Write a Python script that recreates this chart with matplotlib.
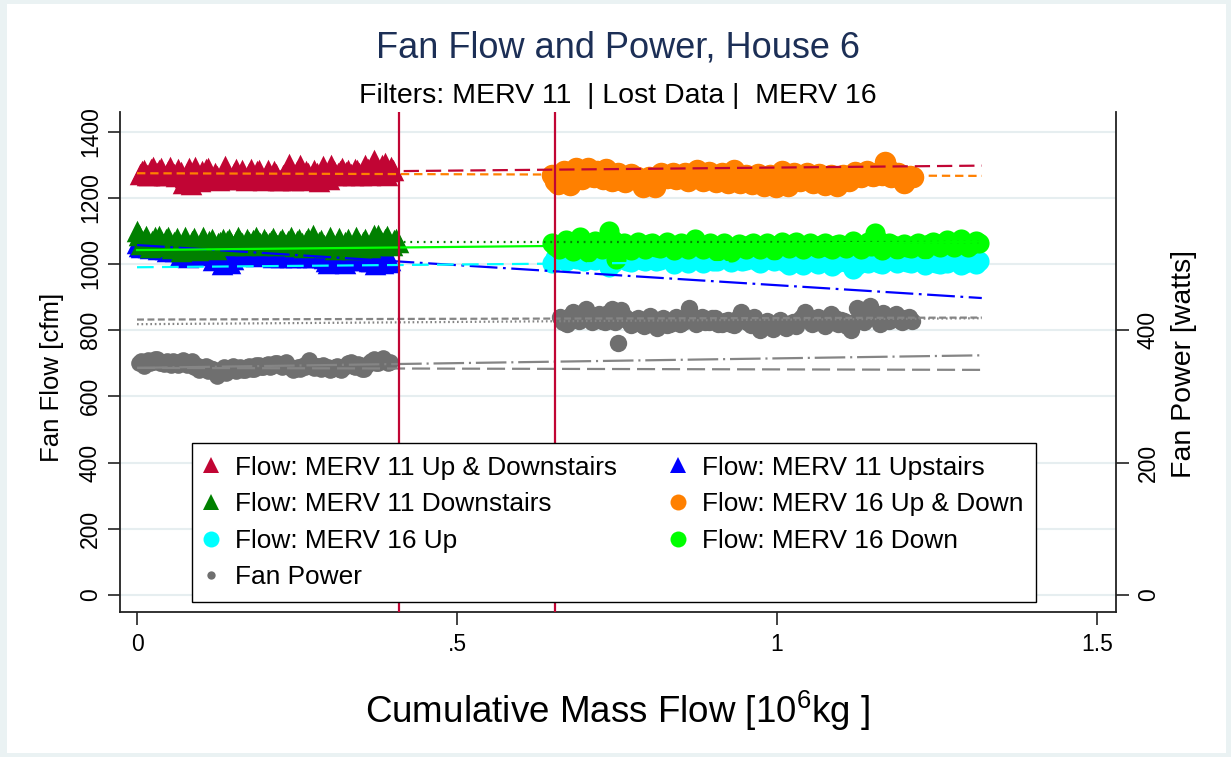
import numpy as np
import matplotlib.pyplot as plt
from matplotlib.lines import Line2D
from matplotlib.patches import Rectangle

plt.rcParams['font.family'] = ['Liberation Sans', 'DejaVu Sans']
plt.rcParams['mathtext.fontset'] = 'custom'
plt.rcParams['mathtext.rm'] = 'Liberation Sans'
plt.rcParams['mathtext.it'] = 'Liberation Sans'
plt.rcParams['lines.scale_dashes'] = False

# Flow [cfm], MERV 11 period
merv11_both = [1272, 1280, 1285, 1268, 1270, 1288, 1294, 1276, 1275, 1284,
               1290, 1270, 1268, 1282, 1292, 1274, 1272, 1266, 1288, 1278,
               1245, 1262, 1275, 1290, 1242, 1256, 1292, 1270, 1250, 1280,
               1262, 1288, 1290, 1258, 1258, 1276, 1266, 1255, 1260, 1272,
               1296, 1278, 1260, 1256, 1274, 1286, 1258, 1270, 1284, 1262,
               1254, 1276, 1286, 1260, 1262, 1280, 1283, 1256, 1255, 1270,
               1284, 1262, 1256, 1280, 1272, 1254, 1254, 1268, 1275, 1284,
               1303, 1270, 1255, 1264, 1280, 1300, 1253, 1262, 1282, 1274,
               1256, 1268, 1283, 1274, 1250, 1262, 1296, 1278, 1262, 1256,
               1298, 1282, 1268, 1276, 1282, 1290, 1270, 1279, 1284, 1272,
               1270, 1286, 1283, 1274, 1268, 1280, 1300, 1288, 1270, 1276,
               1314, 1290, 1272, 1282, 1300, 1306, 1268, 1280, 1292, 1284]
merv11_up = [1062, 1054, 1050, 1058, 1066, 1052, 1048, 1060, 1058, 1050,
             1046, 1054, 1060, 1044, 1040, 1050, 1055, 1042, 1038, 1046,
             1024, 1040, 1048, 1036, 1022, 1030, 1045, 1040, 1030, 1038,
             1040, 1034, 1028, 1036, 1044, 1032, 1012, 1024, 1036, 1030,
             1000, 1020, 1034, 1028, 1004, 1016, 1030, 1036, 1040, 1030,
             1042, 1034, 1028, 1036, 1040, 1030, 1025, 1032, 1036, 1028,
             1026, 1034, 1038, 1028, 1022, 1030, 1035, 1026, 1020, 1028,
             1034, 1026, 1022, 1030, 1030, 1020, 1024, 1030, 1032, 1026,
             1020, 1028, 1032, 1022, 1024, 1030, 1028, 1022, 1018, 1010,
             1003, 1016, 1026, 1012, 1006, 1018, 1024, 1014, 1004, 1016,
             1022, 1014, 1012, 1020, 1025, 1012, 1016, 1022, 1020, 1010,
             1008, 1018, 1000, 1006, 1010, 1014, 1002, 1008, 1006, 1012]
merv11_down = [1100, 1088, 1060, 1072, 1084, 1066, 1052, 1070, 1080, 1064,
               1085, 1068, 1055, 1074, 1080, 1062, 1048, 1066, 1078, 1060,
               1040, 1062, 1082, 1056, 1045, 1070, 1078, 1058, 1042, 1066,
               1080, 1060, 1048, 1068, 1076, 1056, 1044, 1062, 1066, 1074,
               1060, 1070, 1074, 1064, 1058, 1068, 1080, 1070, 1062, 1056,
               1076, 1066, 1060, 1072, 1082, 1068, 1064, 1058, 1074, 1066,
               1062, 1070, 1078, 1066, 1058, 1068, 1075, 1062, 1056, 1070,
               1080, 1066, 1055, 1068, 1074, 1062, 1052, 1068, 1078, 1064,
               1086, 1070, 1054, 1066, 1072, 1058, 1050, 1064, 1080, 1066,
               1046, 1062, 1078, 1060, 1048, 1066, 1075, 1058, 1045, 1062,
               1080, 1064, 1048, 1066, 1076, 1060, 1050, 1070, 1088, 1072,
               1088, 1070, 1056, 1074, 1084, 1066, 1058, 1072, 1076, 1066]

# Flow [cfm], MERV 16 period
merv16_both = [1268, 1252, 1240, 1262, 1280, 1256, 1238, 1270, 1290, 1264,
               1258, 1276, 1290, 1266, 1262, 1280, 1272, 1256, 1286, 1268,
               1250, 1266, 1276, 1254, 1248, 1262, 1272, 1258, 1262, 1250,
               1232, 1250, 1262, 1242, 1232, 1256, 1275, 1262, 1260, 1268,
               1276, 1258, 1262, 1270, 1274, 1252, 1260, 1272, 1284, 1264,
               1250, 1266, 1278, 1256, 1248, 1262, 1274, 1254, 1244, 1264,
               1284, 1262, 1244, 1258, 1270, 1250, 1242, 1262, 1272, 1254,
               1235, 1252, 1268, 1246, 1232, 1254, 1280, 1258, 1236, 1250,
               1276, 1260, 1250, 1266, 1274, 1256, 1246, 1262, 1272, 1256,
               1238, 1256, 1270, 1250, 1236, 1258, 1268, 1256, 1250, 1266,
               1278, 1266, 1262, 1274, 1280, 1270, 1266, 1276, 1276, 1268,
               1308, 1286, 1262, 1272, 1274, 1266, 1246, 1258, 1266, 1262]
merv16_up = [1003, 1018, 1030, 1014, 1010, 1022, 1026, 1016, 1018, 1008,
             1024, 1014, 1012, 1022, 1028, 1010, 990, 1004, 1016, 1024,
             1022, 1010, 1006, 1018, 1025, 1012, 1008, 1016, 1020, 1010,
             1012, 1020, 1026, 1014, 1000, 1010, 1018, 1008, 1004, 1014,
             1022, 1012, 1002, 1016, 1020, 1008, 1010, 1018, 1026, 1014,
             1006, 1016, 1022, 1010, 1012, 1020, 1018, 1008, 1002, 1012,
             1024, 1014, 1010, 1018, 1020, 1006, 998, 1008, 1012, 1004,
             996, 1008, 1016, 1006, 1000, 1012, 1020, 1008, 994, 1004,
             1018, 1008, 1006, 1014, 986, 996, 1014, 1006, 1004, 1012,
             1012, 1004, 1000, 1010, 1020, 1012, 1004, 1010, 1016, 1006,
             1002, 1010, 1018, 1008, 998, 1006, 1014, 1004, 1000, 1008,
             1004, 1012, 1016, 1006, 996, 1004, 1012, 1008, 1000, 1010]
merv16_down = [1062, 1054, 1046, 1060, 1072, 1056, 1040, 1064, 1082, 1066,
               1036, 1058, 1068, 1050, 1044, 1062, 1100, 1072, 1015, 1048,
               1064, 1052, 1042, 1058, 1066, 1054, 1046, 1060, 1064, 1052,
               1048, 1058, 1066, 1054, 1042, 1056, 1062, 1050, 1046, 1058,
               1076, 1058, 1044, 1056, 1064, 1052, 1040, 1054, 1062, 1050,
               1036, 1050, 1060, 1052, 1044, 1056, 1062, 1054, 1046, 1058,
               1064, 1054, 1042, 1056, 1066, 1058, 1048, 1060, 1066, 1056,
               1046, 1056, 1064, 1054, 1048, 1058, 1062, 1052, 1044, 1056,
               1060, 1054, 1048, 1058, 1068, 1056, 1044, 1058, 1066, 1054,
               1094, 1070, 1042, 1054, 1064, 1056, 1046, 1054, 1060, 1052,
               1048, 1058, 1064, 1054, 1046, 1060, 1066, 1056, 1050, 1062,
               1072, 1060, 1052, 1064, 1074, 1062, 1050, 1060, 1068, 1062]

# Fan power [watts]
power_merv11 = [350, 353, 346, 352, 355, 351, 352, 356, 356, 350,
                352, 349, 354, 350, 348, 354, 352, 348, 350, 355,
                352, 348, 350, 354, 345, 348, 340, 344, 342, 346,
                338, 343, 342, 338, 331, 336, 340, 344, 336, 340,
                342, 346, 338, 343, 344, 340, 340, 345, 346, 342,
                342, 347, 348, 344, 344, 348, 349, 345, 346, 350,
                350, 347, 344, 348, 352, 346, 343, 340, 342, 345,
                341, 346, 344, 350, 355, 348, 343, 346, 346, 342,
                348, 344, 344, 340, 341, 345, 346, 342, 340, 344,
                346, 350, 352, 346, 344, 349, 348, 342, 342, 347,
                350, 354, 356, 350, 350, 355, 358, 353, 350, 352]
power_merv16 = [420, 412, 410, 422, 428, 418, 414, 424, 432, 420,
                412, 418, 424, 414, 412, 426, 432, 412, 380, 430,
                420, 414, 408, 416, 418, 410, 406, 414, 422, 412,
                404, 412, 418, 408, 410, 416, 420, 410, 412, 418,
                433, 422, 410, 416, 420, 412, 412, 418, 418, 410,
                410, 414, 416, 410, 408, 418, 428, 420, 412, 408,
                420, 412, 400, 408, 414, 406, 402, 410, 416, 408,
                404, 410, 412, 406, 416, 420, 428, 418, 410, 414,
                420, 414, 406, 412, 425, 418, 410, 416, 414, 406,
                400, 412, 434, 420, 412, 424, 436, 426, 418, 410,
                426, 418, 414, 420, 424, 416, 412, 418, 420, 414]

# cumulative mass flow span of each series [10^6 kg]
span_m11_both = (0.005, 0.400)
span_m11_up = (0.0, 0.395)
span_m11_down = (0.0, 0.408)
span_m16_both = (0.648, 1.212)
span_m16_updown = (0.648, 1.316)
span_pow11 = (0.003, 0.395)
span_pow16 = (0.661, 1.211)

# linear fits (ends)
fit_x = [0.0, 1.32]
fit_m11_both = [1273, 1297]
fit_m11_up = [1057, 897]
fit_m11_down = [1065, 1065]
fit_m16_both = [1274, 1266]
fit_m16_up = [990, 1012]
fit_m16_down = [1042, 1067]
fit_pow_a = [416, 419]
fit_pow_b = [409, 418]
fit_pow_c = [343, 362]
fit_pow_d = [343, 340]

filter_changes = [0.409, 0.653]

W, H = 1231, 757
fig = plt.figure(figsize=(W / 100, H / 100), dpi=100, facecolor='#eaf2f3')
fig.patches.append(Rectangle((7 / W, 4 / H), (W - 12) / W, (H - 8) / H,
                             transform=fig.transFigure, facecolor='white',
                             edgecolor='none', zorder=-10))

ax = fig.add_axes([120 / W, 1 - 612 / H, 996 / W, 500 / H])
ax2 = ax.twinx()

crimson = '#c10534'
green = '#008000'
blue = '#0000ff'
orange = '#ff8000'
cyan = '#00ffff'
lime = '#00ff00'
grey = '#6f6f6f'
lgrey = '#858585'


def xs(span, vals):
    return np.linspace(span[0], span[1], len(vals))


ax.scatter(xs(span_m11_both, merv11_both), merv11_both, marker='^', s=15.5 ** 2,
           color=crimson, linewidths=0, zorder=2)
ax.scatter(xs(span_m11_up, merv11_up), merv11_up, marker='^', s=15.5 ** 2,
           color=blue, linewidths=0, zorder=2)
ax.scatter(xs(span_m11_down, merv11_down), merv11_down, marker='^', s=15.5 ** 2,
           color=green, linewidths=0, zorder=2)
ax.scatter(xs(span_m16_both, merv16_both), merv16_both, marker='o', s=15.5 ** 2,
           color=orange, linewidths=0, zorder=2)
ax.scatter(xs(span_m16_updown, merv16_up), merv16_up, marker='o', s=14.5 ** 2,
           color=cyan, linewidths=0, zorder=2)
ax.scatter(xs(span_m16_updown, merv16_down), merv16_down, marker='o', s=14.5 ** 2,
           color=lime, linewidths=0, zorder=2)

lw = 1.6
ax.plot(fit_x, fit_m11_both, color=crimson, lw=lw, dashes=(11, 5), zorder=3)
ax.plot(fit_x, fit_m11_up, color=blue, lw=lw, dashes=(20, 4, 2, 4), zorder=3)
ax.plot(fit_x, fit_m11_down, color=green, lw=lw, dashes=(1.3, 3.5), zorder=3)
ax.plot(fit_x, fit_m16_both, color=orange, lw=lw, dashes=(6, 3.5), zorder=3)
ax.plot(fit_x, fit_m16_up, color=cyan, lw=lw, dashes=(12, 6), zorder=3)
ax.plot(fit_x, fit_m16_down, color=lime, lw=lw, zorder=3)

ax2.scatter(xs(span_pow11, power_merv11), power_merv11, marker='o', s=12 ** 2,
            color=grey, linewidths=0, zorder=2)
ax2.scatter(xs(span_pow16, power_merv16), power_merv16, marker='o', s=12.5 ** 2,
            color=grey, linewidths=0, zorder=2)
ax2.plot(fit_x, fit_pow_a, color=lgrey, lw=lw, dashes=(5, 2.5), zorder=3)
ax2.plot(fit_x, fit_pow_b, color=lgrey, lw=lw, dashes=(1.2, 2), zorder=3)
ax2.plot(fit_x, fit_pow_c, color=lgrey, lw=lw, dashes=(22, 3.5, 1.5, 3.5), zorder=3)
ax2.plot(fit_x, fit_pow_d, color=lgrey, lw=lw, dashes=(13, 5), zorder=3)

for xc in filter_changes:
    ax2.axvline(xc, color=crimson, lw=1.6, zorder=4)

# axes
ax.set_xlim(-0.0266, 1.5297)
ax.set_ylim(-51.4, 1459)
ax2.set_ylim(-25.7, 729.5)
ax.set_xticks([0, 0.5, 1, 1.5])
ax.set_xticklabels(['0', '.5', '1', '1.5'])
ax.set_yticks(range(0, 1401, 200))
ax.set_yticklabels([str(v) for v in range(0, 1401, 200)], rotation=90, va='center')
ax2.set_yticks([0, 200, 400])
ax2.set_yticklabels(['0', '200', '400'], rotation=90, va='center')

ax.yaxis.grid(True, color='#e6eef0', lw=1.5)
ax.set_axisbelow(True)
for s in ['top', 'right']:
    ax.spines[s].set_visible(False)
for s in ['top', 'left', 'bottom']:
    ax2.spines[s].set_visible(False)
for sp in [ax.spines['left'], ax.spines['bottom'], ax2.spines['right']]:
    sp.set_color('#222222')
    sp.set_linewidth(1.3)
ax.tick_params(axis='both', length=9, width=1.2, color='#222222', labelsize=16.5)
ax.tick_params(axis='x', pad=6)
ax.tick_params(axis='y', pad=4)
ax2.tick_params(axis='y', length=9, width=1.2, color='#222222', labelsize=16.5, pad=6)

# texts
fig.text(618 / W, 1 - 48 / H, 'Fan Flow and Power, House 6', ha='center', va='center',
         fontsize=26, color='#1c2f56')
fig.text(618 / W, 1 - 96 / H, 'Filters: MERV 11  | Lost Data |  MERV 16', ha='center',
         va='center', fontsize=20.5)
fig.text(618 / W, 1 - 711 / H, 'Cumulative Mass Flow [10$^{6}$kg ]', ha='center',
         va='center', fontsize=26.5)
fig.text(52 / W, 1 - 377 / H, 'Fan Flow [cfm]', ha='center', va='center',
         rotation=90, fontsize=18.5)
fig.text(1184 / W, 1 - 364 / H, 'Fan Power [watts]', ha='center', va='center',
         rotation=90, fontsize=20.5)

# legend
handles = [
    Line2D([], [], ls='none', marker='^', ms=12, color=crimson, mew=0),
    Line2D([], [], ls='none', marker='^', ms=12, color=blue, mew=0),
    Line2D([], [], ls='none', marker='^', ms=12, color=green, mew=0),
    Line2D([], [], ls='none', marker='o', ms=11.5, color=orange, mew=0),
    Line2D([], [], ls='none', marker='o', ms=11.5, color=cyan, mew=0),
    Line2D([], [], ls='none', marker='o', ms=11.5, color=lime, mew=0),
    Line2D([], [], ls='none', marker='o', ms=6, color=grey, mew=0),
]
labels = ['Flow: MERV 11 Up & Downstairs', 'Flow: MERV 11 Upstairs',
          'Flow: MERV 11 Downstairs', 'Flow: MERV 16 Up & Down',
          'Flow: MERV 16 Up', 'Flow: MERV 16 Down', 'Fan Power']
# matplotlib fills columns first, so reorder to read across rows
order = [0, 2, 4, 6, 1, 3, 5]
leg = ax2.legend([handles[i] for i in order], [labels[i] for i in order], ncol=2,
                 loc='upper left', bbox_to_anchor=(192 / W, 1 - 443 / H),
                 bbox_transform=fig.transFigure, fontsize=18.9, frameon=True,
                 fancybox=False, framealpha=1, edgecolor='black', borderpad=0.48,
                 handlelength=0.5, handletextpad=0.65, columnspacing=2.1,
                 labelspacing=0.48, borderaxespad=0)
leg.get_frame().set_linewidth(1.0)
leg.set_zorder(10)

fig.savefig('out.png', dpi=100, facecolor=fig.get_facecolor())
